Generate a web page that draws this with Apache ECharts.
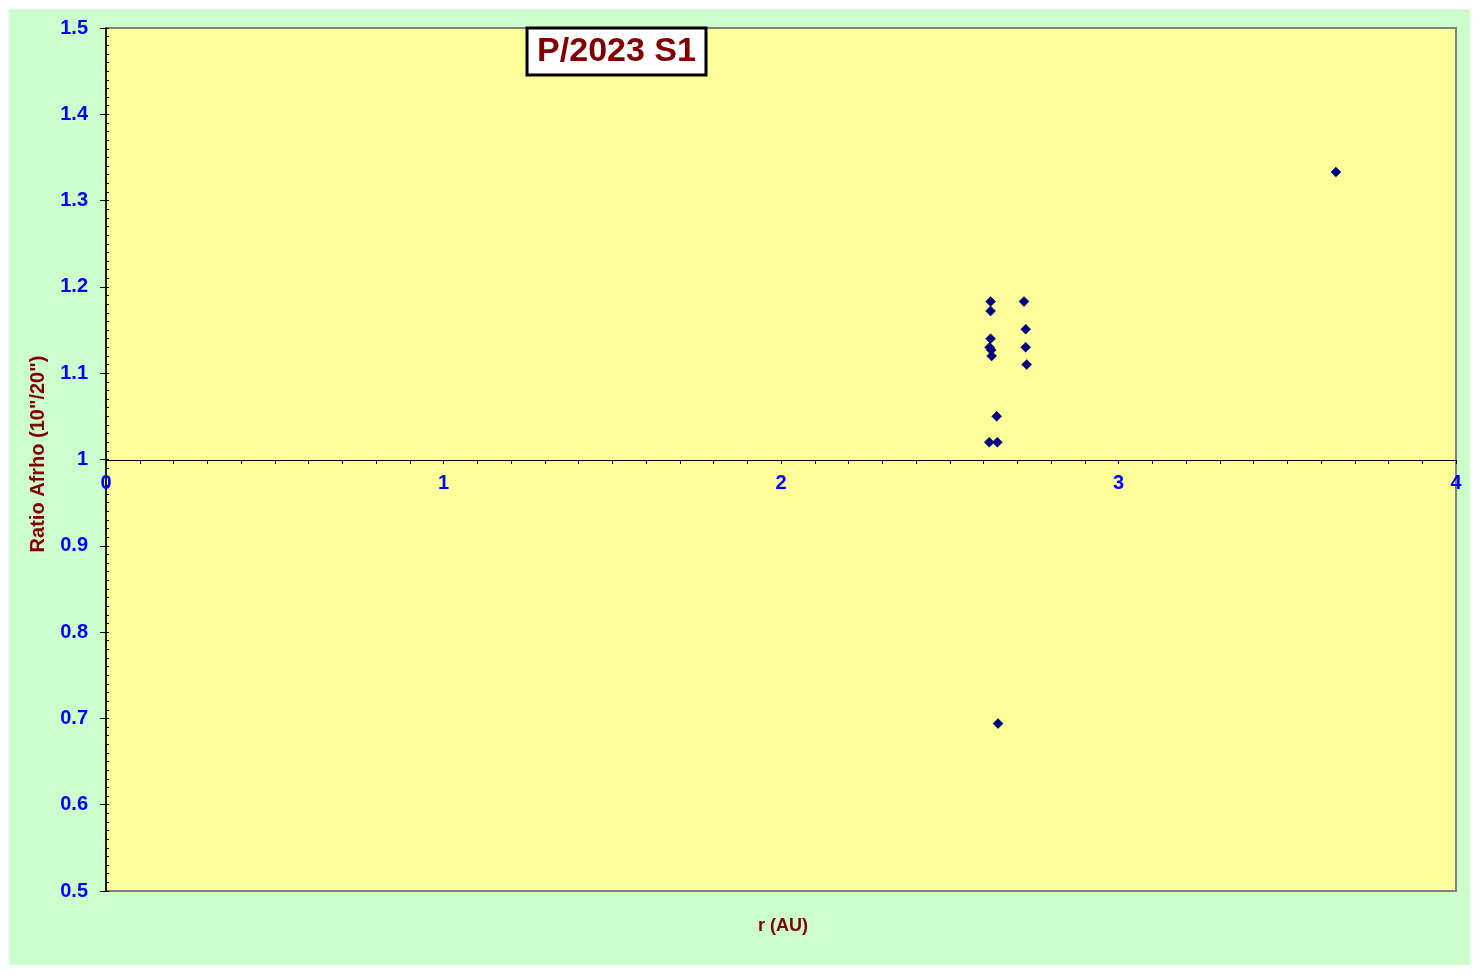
<!DOCTYPE html>
<html>
<head>
<meta charset="utf-8">
<script src="https://cdn.jsdelivr.net/npm/echarts@6/dist/echarts.min.js"></script>
<style>
  html, body { margin: 0; padding: 0; background: #ffffff; }
  #bg { position: absolute; left: 9px; top: 9px; width: 1461px; height: 956px; background: #CCFFCC; }
  #chart { position: absolute; left: 0; top: 0; width: 1480px; height: 973px; }
</style>
</head>
<body>
<div id="bg"></div>
<div id="chart"></div>
<script>
const titleText = 'P/2023 S1';
const xAxisName = 'r (AU)';
const yAxisName = 'Ratio Afrho (10"/20")';
const xTickLabels = ['0', '1', '2', '3', '4'];
const yTickLabels = ['0.5', '0.6', '0.7', '0.8', '0.9', '1', '1.1', '1.2', '1.3', '1.4', '1.5'];
const rValues =     [2.621, 2.621, 2.720, 2.725, 2.621, 2.618, 2.623, 2.624, 2.725, 2.728, 2.639, 2.617, 2.641, 3.644, 2.643];
const ratioValues = [1.183, 1.172, 1.183, 1.151, 1.140, 1.130, 1.127, 1.120, 1.130, 1.110, 1.050, 1.020, 1.020, 1.333, 0.694];

const points = rValues.map((r, i) => [r, ratioValues[i]]);
const chart = echarts.init(document.getElementById('chart'), null, { renderer: 'canvas' });
const FONT = 'Liberation Sans, Arial, sans-serif';

chart.setOption({
  backgroundColor: 'transparent',
  animation: false,
  grid: [
    { left: 106, top: 28, width: 1350, height: 863, show: true,
      backgroundColor: '#FFFF99', borderColor: '#808080', borderWidth: 2 },
    { left: 106, top: 28, width: 1350, height: 863, show: false }
  ],
  xAxis: [
    { gridIndex: 0, type: 'value', min: 0, max: 4, interval: 1,
      position: 'bottom', offset: -431,
      axisLine: { show: true, onZero: false, lineStyle: { color: '#000000', width: 1 } },
      axisTick: { show: true, length: 4, lineStyle: { color: '#000000' } },
      minorTick: { show: true, splitNumber: 10, length: 4, lineStyle: { color: '#000000' } },
      splitLine: { show: false },
      axisLabel: { color: '#0000FF', fontWeight: 'bold', fontSize: 20, fontFamily: FONT, margin: 13,
        showMinLabel: true, showMaxLabel: true,
        formatter: v => xTickLabels[Math.round(v)] } },
    { gridIndex: 1, type: 'value', min: 0, max: 4, show: false }
  ],
  yAxis: [
    { gridIndex: 0, type: 'value', min: 0.5, max: 1.5, interval: 0.1,
      axisLine: { show: true, lineStyle: { color: '#000000', width: 1.5 } },
      axisTick: { show: true, length: 6, inside: false, lineStyle: { color: '#000000' } },
      splitLine: { show: false },
      axisLabel: { color: '#0000FF', fontWeight: 'bold', fontSize: 20, fontFamily: FONT, margin: 18,
        showMinLabel: true, showMaxLabel: true,
        formatter: v => yTickLabels[Math.round((v - 0.5) / 0.1)] } },
    { gridIndex: 1, type: 'value', min: 0.5, max: 1.5, interval: 0.01,
      axisLine: { show: false },
      axisTick: { show: true, inside: true, length: 3, lineStyle: { color: '#000000' } },
      axisLabel: { show: false },
      splitLine: { show: false } }
  ],
  series: [{
    type: 'scatter',
    xAxisIndex: 0, yAxisIndex: 0,
    symbol: 'diamond',
    symbolSize: 10,
    itemStyle: { color: '#000080', borderColor: '#000066', borderWidth: 0.5, opacity: 1 },
    data: points,
    z: 5
  }],
  graphic: [
    { type: 'rect', z: 100, shape: { x: 527, y: 28, width: 179, height: 47 },
      style: { fill: '#FFFFFF', stroke: '#000000', lineWidth: 3 } },
    { type: 'text', z: 101, x: 616.5, y: 52,
      style: { text: titleText, fill: '#800000', font: 'bold 34px ' + FONT,
        textAlign: 'center', textVerticalAlign: 'middle' } },
    { type: 'text', z: 101, x: 783, y: 926,
      style: { text: xAxisName, fill: '#800000', font: 'bold 18px ' + FONT,
        textAlign: 'center', textVerticalAlign: 'middle' } },
    { type: 'text', z: 101, x: 38, y: 454, rotation: Math.PI / 2,
      style: { text: yAxisName, fill: '#800000', font: 'bold 20px ' + FONT,
        textAlign: 'center', textVerticalAlign: 'middle' } }
  ]
});
</script>
</body>
</html>
